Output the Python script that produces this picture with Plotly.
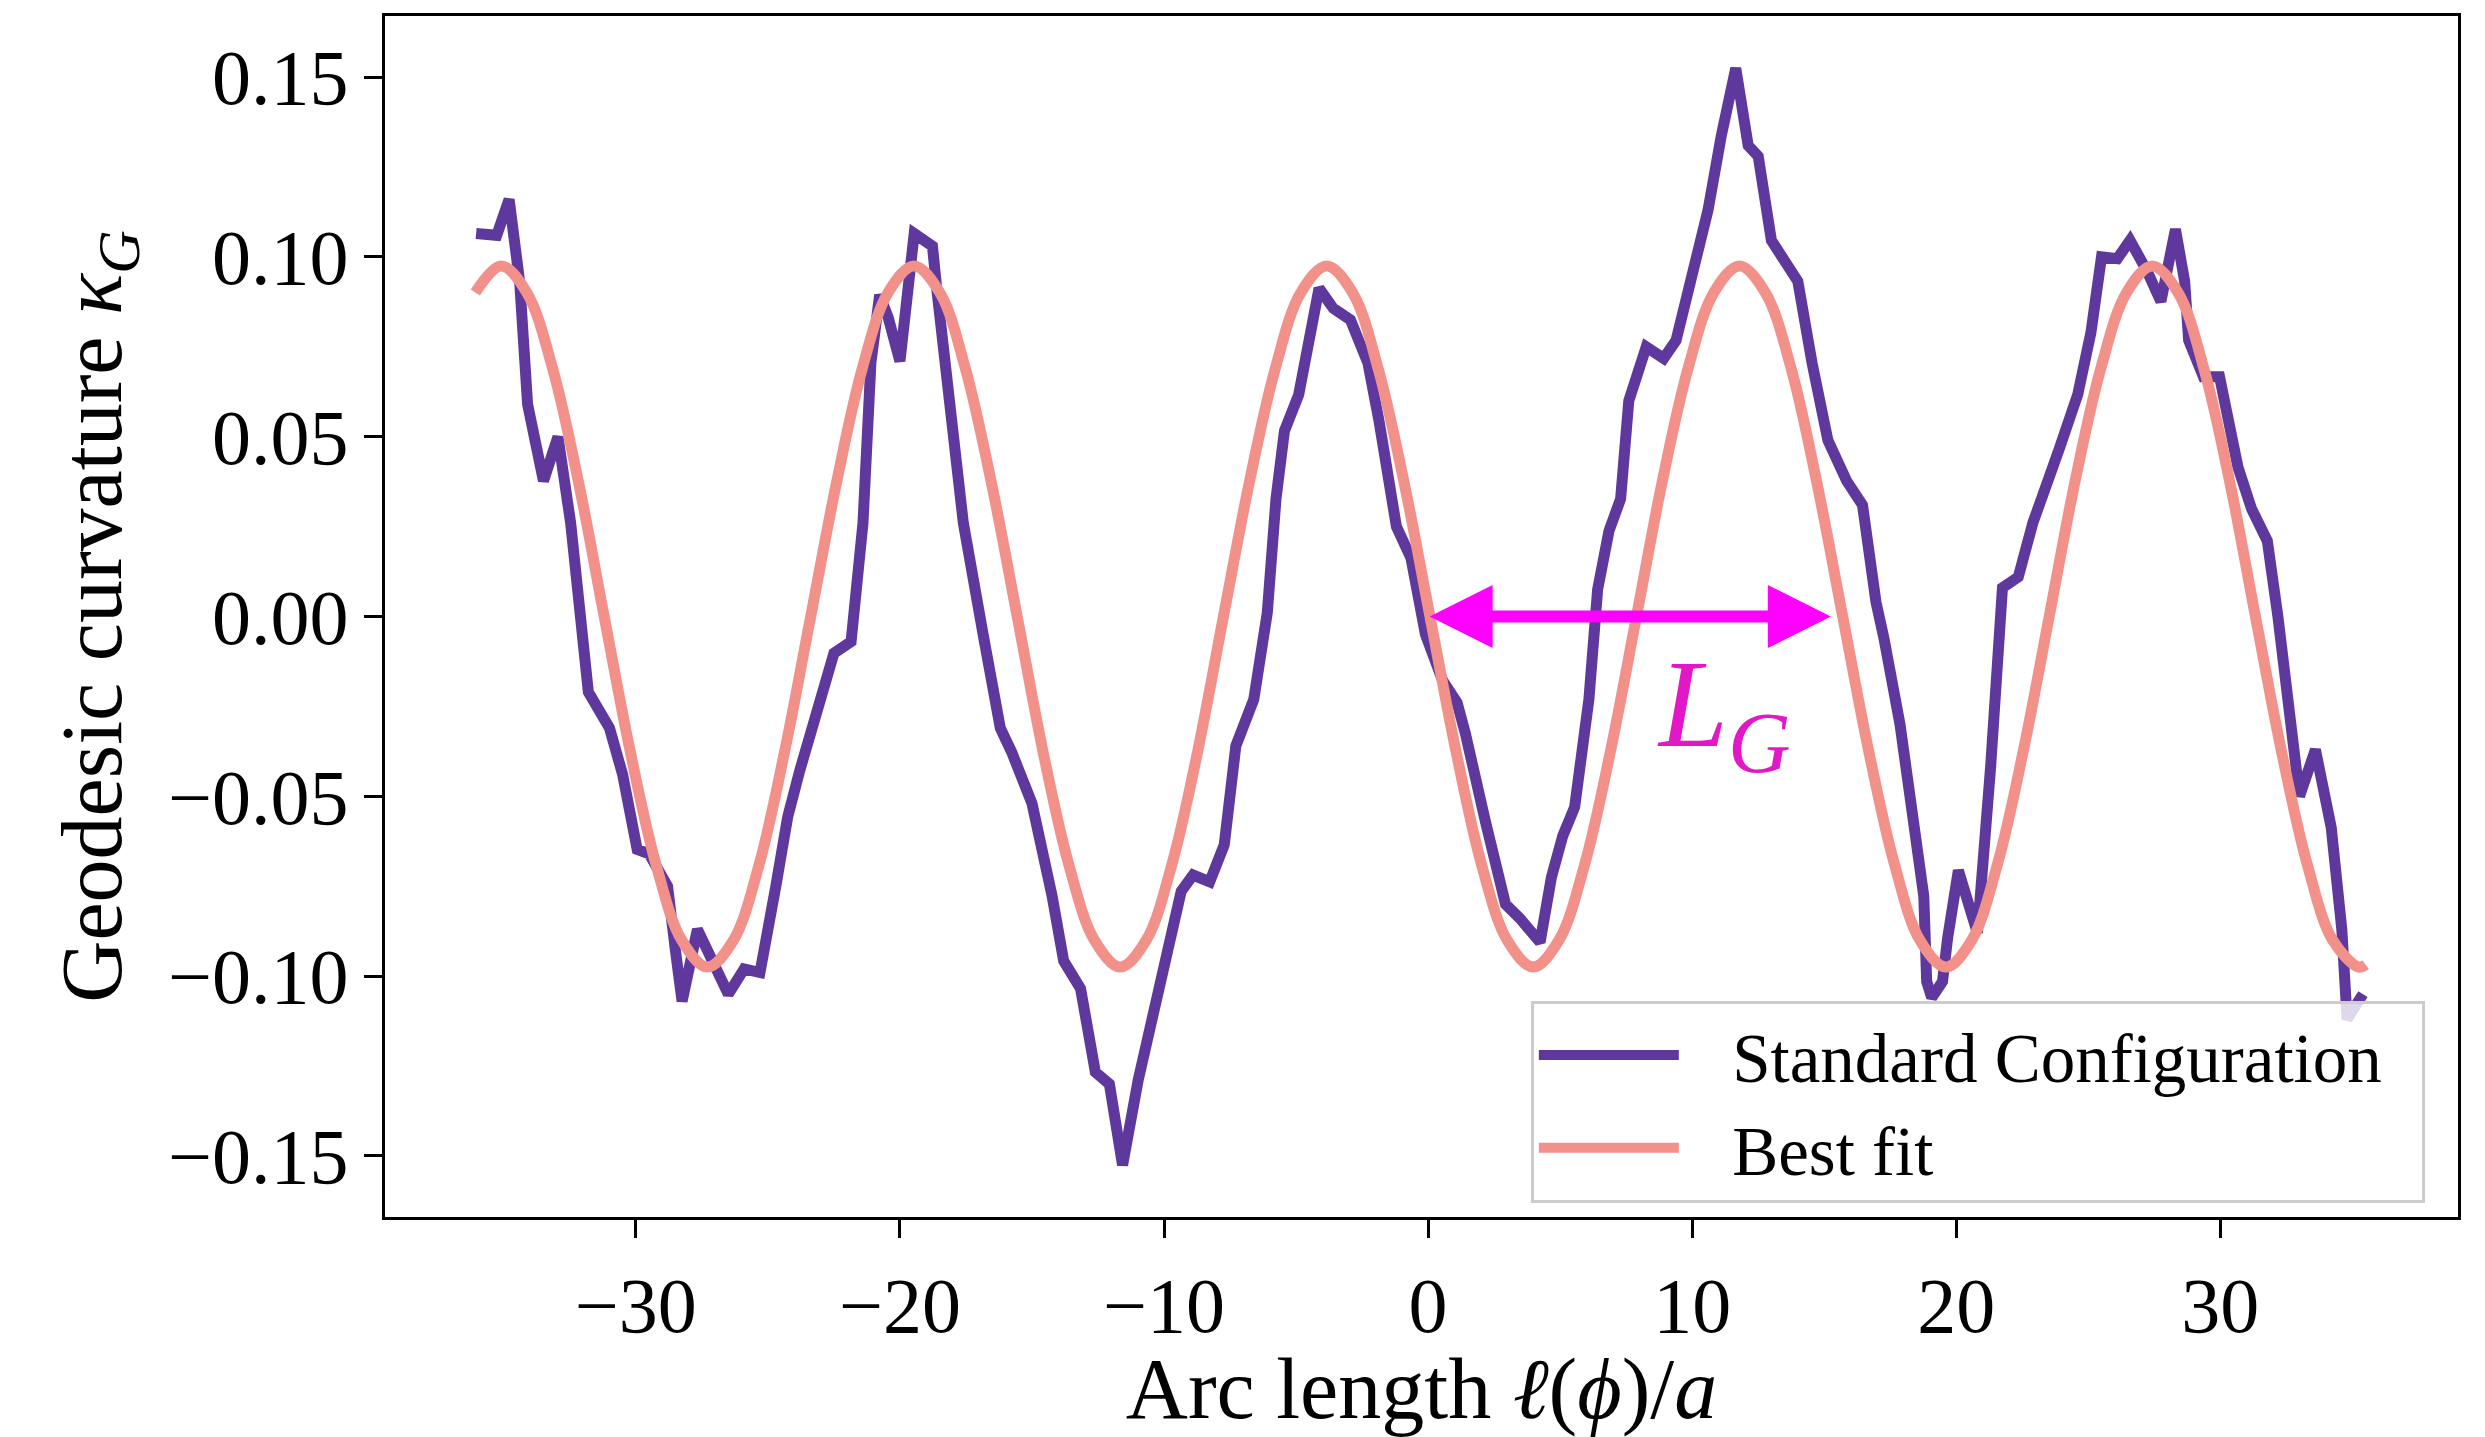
import plotly.graph_objects as go

# ---------------- data ----------------
arc_std = [-36.05, -35.27, -34.80, -34.40, -34.10, -33.50, -32.95, -32.47, -31.80, -31.00,
           -30.50, -29.95, -29.50, -28.80, -28.50, -28.25, -27.67, -27.15, -26.50, -25.90,
           -25.30, -24.70, -24.25, -23.80, -23.20, -22.50, -21.85, -21.40, -21.10, -20.77,
           -20.44, -20.00, -19.46, -18.77, -18.60, -18.15, -17.60, -16.85, -16.40, -16.20,
           -15.77, -15.00, -14.24, -13.80, -13.16, -12.60, -12.07, -11.57, -10.98, -10.10,
           -9.35, -8.90, -8.27, -7.72, -7.28, -6.60, -6.09, -5.76, -5.44, -4.90,
           -4.57, -4.13, -3.59, -2.94, -2.28, -1.85, -1.20, -0.65, -0.10, 0.55,
           1.10, 1.41, 2.17, 2.93, 3.48, 4.24, 4.67, 5.10, 5.55, 5.87,
           6.09, 6.42, 6.85, 7.29, 7.60, 8.26, 8.92, 9.39, 9.80, 10.60,
           11.10, 11.65, 12.12, 12.50, 13.00, 13.50, 14.00, 14.54, 15.14, 15.85,
           16.45, 16.96, 17.26, 17.87, 18.37, 18.77, 18.88, 19.07, 19.48, 19.67,
           20.08, 20.80, 21.30, 21.75, 22.35, 22.90, 23.90, 24.60, 25.10, 25.50,
           26.10, 26.58, 27.25, 27.75, 28.30, 28.65, 28.80, 29.36, 29.97, 30.67,
           31.18, 31.78, 32.18, 32.60, 33.00, 33.60, 34.20, 34.60, 34.80, 35.40]

kappa_std = [0.1065, 0.1060, 0.1160, 0.0930, 0.0590, 0.0377, 0.0500, 0.0260, -0.0210, -0.0310,
             -0.0440, -0.0648, -0.0660, -0.0750, -0.0930, -0.1070, -0.0870, -0.0945, -0.1050, -0.0980,
             -0.0990, -0.0750, -0.0557, -0.0430, -0.0280, -0.0102, -0.0070, 0.0260, 0.0705, 0.0894,
             0.0830, 0.0710, 0.1065, 0.1030, 0.0907, 0.0600, 0.0260, -0.0050, -0.0230, -0.0310,
             -0.0377, -0.0520, -0.0777, -0.0958, -0.1035, -0.1267, -0.1300, -0.1526, -0.1290, -0.1010,
             -0.0764, -0.0719, -0.0738, -0.0635, -0.0360, -0.0230, 0.0010, 0.0327, 0.0516, 0.0617,
             0.0730, 0.0913, 0.0857, 0.0825, 0.0705, 0.0540, 0.0250, 0.0163, -0.0050, -0.0178,
             -0.0240, -0.0325, -0.0570, -0.0800, -0.0840, -0.0906, -0.0725, -0.0610, -0.0530, -0.0340,
             -0.0230, 0.0075, 0.0238, 0.0327, 0.0600, 0.0750, 0.0718, 0.0768, 0.0894, 0.1130,
             0.1336, 0.1525, 0.1310, 0.1280, 0.1046, 0.0995, 0.0932, 0.0705, 0.0490, 0.0377,
             0.0310, 0.0040, -0.0060, -0.0300, -0.0540, -0.0777, -0.1015, -0.1060, -0.1015, -0.0896,
             -0.0706, -0.0880, -0.0420, 0.0080, 0.0110, 0.0260, 0.0466, 0.0617, 0.0790, 0.1000,
             0.0995, 0.1046, 0.0957, 0.0876, 0.1077, 0.0932, 0.0768, 0.0667, 0.0667, 0.0415,
             0.0300, 0.0210, 0.0000, -0.0240, -0.0500, -0.0370, -0.0587, -0.0870, -0.1120, -0.1050]

arc_fit = [-36.08, -35.10, -34.13, -33.15, -32.17, -31.20, -30.22, -29.24, -28.26, -27.29,
           -26.31, -25.33, -24.36, -23.38, -22.40, -21.43, -20.45, -19.47, -18.49, -17.52,
           -16.54, -15.56, -14.59, -13.61, -12.63, -11.66, -10.68, -9.70, -8.72, -7.75,
           -6.77, -5.79, -4.82, -3.84, -2.86, -1.89, -0.91, 0.07, 1.05, 2.02,
           3.00, 3.98, 4.95, 5.93, 6.91, 7.89, 8.86, 9.84, 10.82, 11.79,
           12.77, 13.75, 14.72, 15.70, 16.68, 17.66, 18.63, 19.61, 20.58, 21.56,
           22.54, 23.52, 24.49, 25.47, 26.45, 27.42, 28.40, 29.38, 30.36, 31.33,
           32.31, 33.29, 34.26, 35.24, 35.50]

kappa_fit = [0.0901, 0.0975, 0.0901, 0.0689, 0.0373, 0.0000, -0.0373, -0.0689, -0.0901, -0.0975,
             -0.0901, -0.0689, -0.0373, 0.0000, 0.0373, 0.0689, 0.0901, 0.0975, 0.0901, 0.0689,
             0.0373, 0.0000, -0.0373, -0.0689, -0.0901, -0.0975, -0.0901, -0.0689, -0.0373, 0.0000,
             0.0373, 0.0689, 0.0901, 0.0975, 0.0901, 0.0689, 0.0373, 0.0000, -0.0373, -0.0689,
             -0.0901, -0.0975, -0.0901, -0.0689, -0.0373, 0.0000, 0.0373, 0.0689, 0.0901, 0.0975,
             0.0901, 0.0689, 0.0373, 0.0000, -0.0373, -0.0689, -0.0901, -0.0975, -0.0901, -0.0689,
             -0.0373, 0.0000, 0.0373, 0.0689, 0.0901, 0.0975, 0.0901, 0.0689, 0.0373, 0.0000,
             -0.0373, -0.0689, -0.0901, -0.0975, -0.0968]

x_ticks = [-30, -20, -10, 0, 10, 20, 30]
y_ticks = [-0.15, -0.10, -0.05, 0.00, 0.05, 0.10, 0.15]

# L_G marker: arrow from one zero crossing to the next
lg_start = 0.0
lg_end = 15.25
lg_label_x = 11.2
lg_label_y = -0.027

# ---------------- styles ----------------
PURPLE = "#5e389c"
SALMON = "#f2918a"
MAGENTA = "#ff00ff"
FONT = "Liberation Serif, Times New Roman, serif"
GAP = "\u2002\u2009"   # spacing between legend line sample and label

fig = go.Figure()
fig.add_trace(go.Scatter(x=arc_std, y=kappa_std, mode="lines",
                         name=GAP + "Standard Configuration" + "\u2002",
                         line=dict(color=PURPLE, width=11)))
fig.add_trace(go.Scatter(x=arc_fit, y=kappa_fit, mode="lines", name=GAP + "Best fit",
                         line=dict(color=SALMON, width=11, shape="spline", smoothing=1.0)))

axis_common = dict(showline=True, linecolor="black", linewidth=3, mirror=True,
                   ticks="outside", ticklen=18, tickwidth=3, tickcolor="black",
                   showgrid=False, zeroline=False, tickfont=dict(size=78, family=FONT, color="black"))

fig.update_xaxes(range=[-39.5, 39.0], tickvals=x_ticks,
                 title=dict(text="Arc length <i>ℓ</i>(<i>ϕ</i>)/<i>a</i>",
                            font=dict(size=86, family=FONT, color="black"), standoff=16),
                 **axis_common)
fig.update_yaxes(range=[-0.167, 0.167], tickvals=y_ticks, tickformat=".2f",
                 title=dict(text="Geodesic curvature <i>κ</i><sub><i>G</i></sub>",
                            font=dict(size=86, family=FONT, color="black"), standoff=18),
                 **axis_common)

fig.add_annotation(x=lg_end, y=0, ax=lg_start, ay=0, xref="x", yref="y", axref="x", ayref="y",
                   text="", showarrow=True, arrowhead=2, startarrowhead=2, arrowside="end+start",
                   arrowwidth=12, arrowsize=1.05, startarrowsize=1.05, arrowcolor=MAGENTA,
                   standoff=0, startstandoff=0)
fig.add_annotation(x=lg_label_x, y=lg_label_y, xref="x", yref="y", showarrow=False,
                   text="<i>L</i><sub><i>G</i></sub>",
                   font=dict(size=124, family=FONT, color="#e218c6"),
                   xanchor="center", yanchor="middle")

fig.update_layout(
    width=2485, height=1437,
    margin=dict(l=385, r=27, t=16, b=205),
    plot_bgcolor="white", paper_bgcolor="white",
    font=dict(family=FONT, color="black"),
    legend=dict(x=0.984, y=0.012, xanchor="right", yanchor="bottom",
                font=dict(size=69, family=FONT, color="black"),
                bgcolor="rgba(255,255,255,0.8)", bordercolor="#cccccc", borderwidth=3,
                itemwidth=140),
    showlegend=True,
)

fig.write_html("out.html")
